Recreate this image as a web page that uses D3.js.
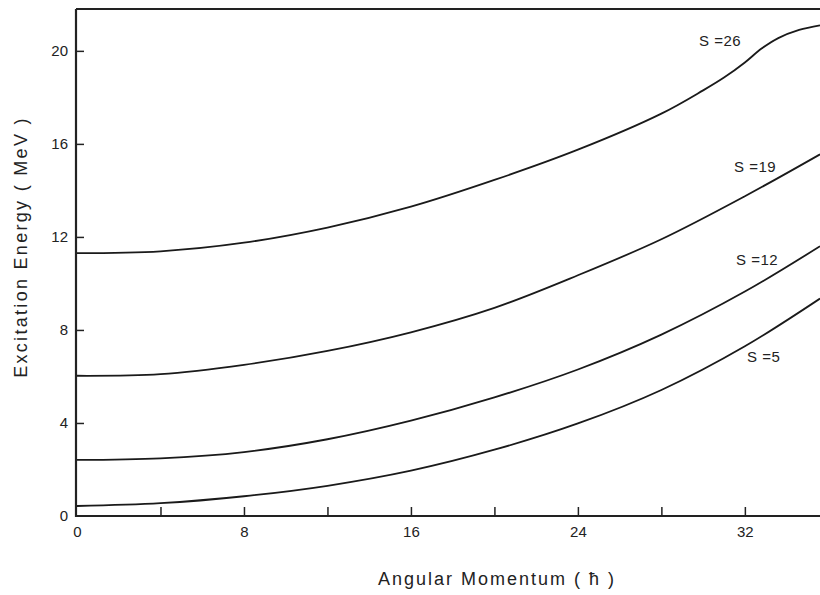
<!DOCTYPE html>
<html>
<head>
<meta charset="utf-8">
<script src="https://cdn.jsdelivr.net/npm/d3@7"></script>
<style>
  body { margin: 0; background: #fff; }
  svg text { font-family: "Liberation Sans", "DejaVu Sans", sans-serif; fill: #222; }
</style>
</head>
<body>
<div id="chart"></div>
<script>
// angular momentum grid (hbar) shared by S=5, 12, 19
const angMom = [0, 4, 8, 12, 16, 20, 24, 28, 32, 35.6]
const energyS5 = [0.43, 0.55, 0.85, 1.3, 1.95, 2.85, 3.98, 5.42, 7.3, 9.35]
const energyS12 = [2.41, 2.48, 2.75, 3.3, 4.1, 5.1, 6.3, 7.8, 9.65, 11.6]
const energyS19 = [6.03, 6.1, 6.5, 7.1, 7.9, 8.95, 10.35, 11.9, 13.75, 15.55]
// S=26 has a kink near 33 hbar, so it gets its own grid
const angMomS26 = [0, 4, 8, 12, 16, 20, 24, 28, 30, 31, 32, 32.8, 33.6, 34.6, 35.6]
const energyS26 = [11.3, 11.38, 11.75, 12.4, 13.3, 14.45, 15.75, 17.3, 18.3, 18.85, 19.5, 20.1, 20.55, 20.9, 21.1]

const seriesLabels = ["S =5", "S =12", "S =19", "S =26"]
const labelPos = [[747, 357], [736, 260], [734, 167], [699, 41]]

const xTicks = [0, 4, 8, 12, 16, 20, 24, 28, 32]
const yTicks = [0, 4, 8, 12, 16, 20]

const series = [
  angMom.map((j, i) => [j, energyS5[i]]),
  angMom.map((j, i) => [j, energyS12[i]]),
  angMom.map((j, i) => [j, energyS19[i]]),
  angMomS26.map((j, i) => [j, energyS26[i]])
]

const width = 820, height = 595
const margin = {top: 9, right: 0, bottom: 79, left: 76}

const svg = d3.select("#chart")
  .append("svg")
  .attr("width", width)
  .attr("height", height)

const x = d3.scaleLinear()
  .domain([0, 35.6])
  .range([margin.left + 1, width])

const y = d3.scaleLinear()
  .domain([0, 21.8])
  .range([height - margin.bottom, margin.top])

// frame: top line
svg.append("line")
  .attr("x1", margin.left).attr("x2", width)
  .attr("y1", margin.top).attr("y2", margin.top)
  .attr("stroke", "#222").attr("stroke-width", 2.2)

const xAxis = svg.append("g")
  .attr("transform", "translate(0," + (height - margin.bottom) + ")")
  .call(d3.axisBottom(x)
    .tickValues(xTicks)
    .tickSizeInner(-9)
    .tickSizeOuter(0)
    .tickPadding(10)
    .tickFormat(d => d % 8 === 0 ? d : ""))

const yAxis = svg.append("g")
  .attr("transform", "translate(" + margin.left + ",0)")
  .call(d3.axisLeft(y)
    .tickValues(yTicks)
    .tickSizeInner(-8)
    .tickSizeOuter(0)
    .tickPadding(8))

xAxis.select(".domain").attr("stroke", "#222").attr("stroke-width", 2.2)
  .attr("d", "M" + margin.left + ",0H" + width)
yAxis.select(".domain").attr("stroke", "#222").attr("stroke-width", 2.2)
  .attr("d", "M0," + margin.top + "V" + (height - margin.bottom + 1))
svg.selectAll(".tick line").attr("stroke", "#222").attr("stroke-width", 1.5)
svg.selectAll(".tick text").attr("font-size", 15).style("fill", "#222")
yAxis.selectAll(".tick").filter(d => d === 0).select("line").remove()
xAxis.selectAll(".tick").filter(d => d === 0).select("line").remove()

const line = d3.line()
  .x(d => x(d[0]))
  .y(d => y(d[1]))
  .curve(d3.curveCatmullRom.alpha(0.5))

svg.selectAll("path.curve")
  .data(series)
  .join("path")
  .attr("class", "curve")
  .attr("d", line)
  .attr("fill", "none")
  .attr("stroke", "#1a1a1a")
  .attr("stroke-width", 1.8)

svg.selectAll("text.slabel")
  .data(seriesLabels)
  .join("text")
  .attr("class", "slabel")
  .attr("x", (d, i) => labelPos[i][0])
  .attr("y", (d, i) => labelPos[i][1])
  .attr("dy", "0.35em")
  .attr("font-size", 15)
  .attr("letter-spacing", 0.5)
  .text(d => d)

svg.append("text")
  .attr("x", 497)
  .attr("y", 585)
  .attr("text-anchor", "middle")
  .attr("font-size", 18)
  .attr("letter-spacing", 2)
  .text("Angular  Momentum ( \u0127 )")

svg.append("text")
  .attr("transform", "translate(27,247) rotate(-90)")
  .attr("text-anchor", "middle")
  .attr("font-size", 18)
  .attr("letter-spacing", 2.3)
  .text("Excitation  Energy  ( MeV )")
</script>
</body>
</html>
